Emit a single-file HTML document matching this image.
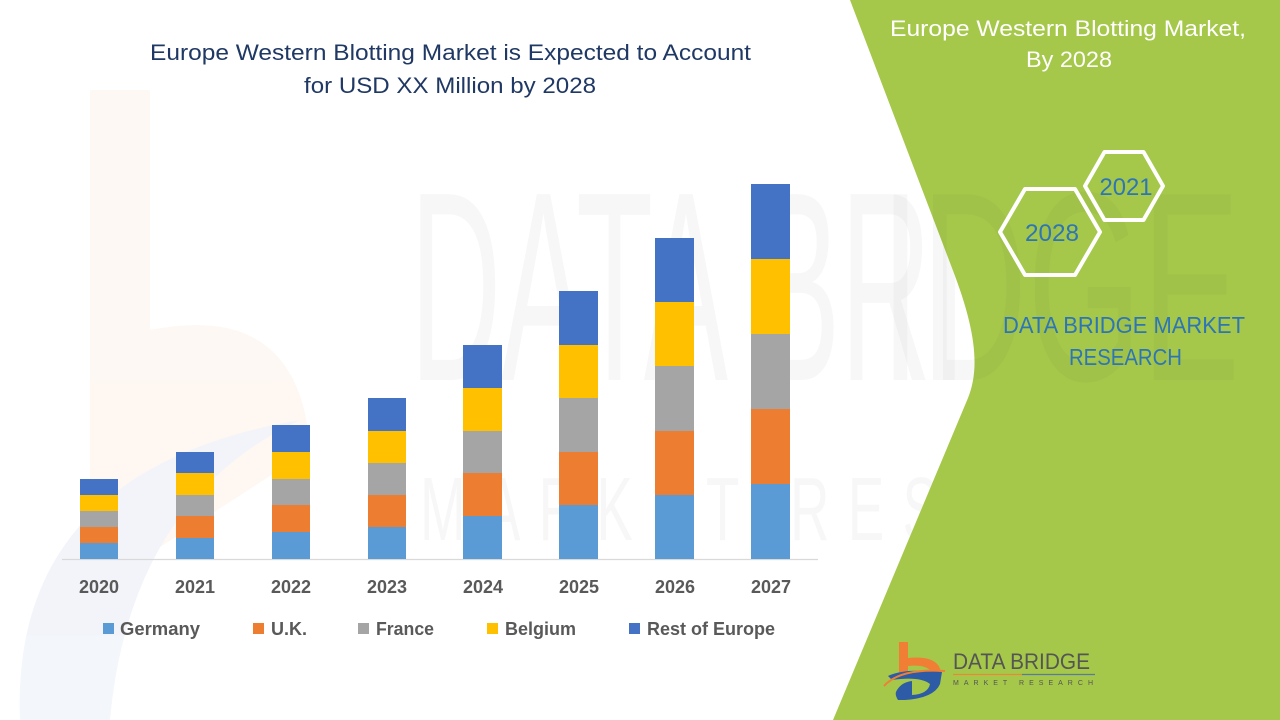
<!DOCTYPE html>
<html><head><meta charset="utf-8"><style>
html,body{margin:0;padding:0;background:#fff;}
svg{display:block;}
text{font-family:"Liberation Sans",sans-serif;}
</style></head><body>
<svg width="1280" height="720" viewBox="0 0 1280 720" xmlns="http://www.w3.org/2000/svg">
<rect width="1280" height="720" fill="#ffffff"/>
<!-- faint watermark -->
<g opacity="0.06">
  <path d="M90,90 L150,90 L150,330 Q300,300 310,450 L140,560 L90,560 Z" fill="#f08a3c"/>
  <path d="M20,720 Q10,470 300,420 Q130,500 110,720 Z" fill="#2f5ea8"/>
</g>
<g opacity="0.045" fill="#555">
  <text x="410" y="380" font-size="270" textLength="830" lengthAdjust="spacingAndGlyphs">DATA BRIDGE</text>
  <text x="420" y="540" font-size="90" textLength="820" lengthAdjust="spacingAndGlyphs" letter-spacing="30">MARKET RESEARCH</text>
</g>
<!-- green panel -->
<path d="M850,0 L952,268 C976,330 980,368 968,398 L833,720 L1280,720 L1280,0 Z" fill="#a5c84a"/>
<g opacity="0.03" fill="#333">
  <text x="880" y="380" font-size="270" textLength="360" lengthAdjust="spacingAndGlyphs">IDGE</text>
</g>

<!-- title -->
<text x="150" y="60" font-size="22" fill="#1f3864" textLength="601" lengthAdjust="spacingAndGlyphs">Europe Western Blotting Market is Expected to Account</text>
<text x="304" y="93" font-size="22" fill="#1f3864" textLength="292" lengthAdjust="spacingAndGlyphs">for USD XX Million by 2028</text>

<!-- axis -->
<line x1="62" y1="559.5" x2="818" y2="559.5" stroke="#d9d9d9" stroke-width="1.2"/>

<!-- bars -->
<g>
  <rect x="80" y="543" width="38" height="16" fill="#5b9bd5"/>
  <rect x="80" y="527" width="38" height="16" fill="#ed7d31"/>
  <rect x="80" y="511" width="38" height="16" fill="#a5a5a5"/>
  <rect x="80" y="495" width="38" height="16" fill="#ffc000"/>
  <rect x="80" y="479" width="38" height="16" fill="#4472c4"/>

  <rect x="176" y="538" width="38" height="21" fill="#5b9bd5"/>
  <rect x="176" y="516" width="38" height="22" fill="#ed7d31"/>
  <rect x="176" y="495" width="38" height="21" fill="#a5a5a5"/>
  <rect x="176" y="473" width="38" height="22" fill="#ffc000"/>
  <rect x="176" y="452" width="38" height="21" fill="#4472c4"/>

  <rect x="272" y="532" width="38" height="27" fill="#5b9bd5"/>
  <rect x="272" y="505" width="38" height="27" fill="#ed7d31"/>
  <rect x="272" y="479" width="38" height="26" fill="#a5a5a5"/>
  <rect x="272" y="452" width="38" height="27" fill="#ffc000"/>
  <rect x="272" y="425" width="38" height="27" fill="#4472c4"/>

  <rect x="368" y="527" width="38" height="32" fill="#5b9bd5"/>
  <rect x="368" y="495" width="38" height="32" fill="#ed7d31"/>
  <rect x="368" y="463" width="38" height="32" fill="#a5a5a5"/>
  <rect x="368" y="431" width="38" height="32" fill="#ffc000"/>
  <rect x="368" y="398" width="38" height="33" fill="#4472c4"/>

  <rect x="463" y="516" width="39" height="43" fill="#5b9bd5"/>
  <rect x="463" y="473" width="39" height="43" fill="#ed7d31"/>
  <rect x="463" y="431" width="39" height="42" fill="#a5a5a5"/>
  <rect x="463" y="388" width="39" height="43" fill="#ffc000"/>
  <rect x="463" y="345" width="39" height="43" fill="#4472c4"/>

  <rect x="559" y="505" width="39" height="54" fill="#5b9bd5"/>
  <rect x="559" y="452" width="39" height="53" fill="#ed7d31"/>
  <rect x="559" y="398" width="39" height="54" fill="#a5a5a5"/>
  <rect x="559" y="345" width="39" height="53" fill="#ffc000"/>
  <rect x="559" y="291" width="39" height="54" fill="#4472c4"/>

  <rect x="655" y="495" width="39" height="64" fill="#5b9bd5"/>
  <rect x="655" y="431" width="39" height="64" fill="#ed7d31"/>
  <rect x="655" y="366" width="39" height="65" fill="#a5a5a5"/>
  <rect x="655" y="302" width="39" height="64" fill="#ffc000"/>
  <rect x="655" y="238" width="39" height="64" fill="#4472c4"/>

  <rect x="751" y="484" width="39" height="75" fill="#5b9bd5"/>
  <rect x="751" y="409" width="39" height="75" fill="#ed7d31"/>
  <rect x="751" y="334" width="39" height="75" fill="#a5a5a5"/>
  <rect x="751" y="259" width="39" height="75" fill="#ffc000"/>
  <rect x="751" y="184" width="39" height="75" fill="#4472c4"/>
</g>

<!-- x labels -->
<g font-size="18" font-weight="bold" fill="#595959" text-anchor="middle">
  <text x="99" y="593">2020</text>
  <text x="195" y="593">2021</text>
  <text x="291" y="593">2022</text>
  <text x="387" y="593">2023</text>
  <text x="483" y="593">2024</text>
  <text x="579" y="593">2025</text>
  <text x="675" y="593">2026</text>
  <text x="771" y="593">2027</text>
</g>

<!-- legend -->
<g font-size="18" font-weight="bold" fill="#595959">
  <rect x="103" y="623" width="11" height="11" fill="#5b9bd5"/>
  <text x="120" y="635" textLength="80" lengthAdjust="spacingAndGlyphs">Germany</text>
  <rect x="253" y="623" width="11" height="11" fill="#ed7d31"/>
  <text x="271" y="635" textLength="36" lengthAdjust="spacingAndGlyphs">U.K.</text>
  <rect x="358" y="623" width="11" height="11" fill="#a5a5a5"/>
  <text x="376" y="635" textLength="58" lengthAdjust="spacingAndGlyphs">France</text>
  <rect x="487" y="623" width="11" height="11" fill="#ffc000"/>
  <text x="505" y="635" textLength="71" lengthAdjust="spacingAndGlyphs">Belgium</text>
  <rect x="629" y="623" width="11" height="11" fill="#4472c4"/>
  <text x="647" y="635" textLength="128" lengthAdjust="spacingAndGlyphs">Rest of Europe</text>
</g>

<!-- right panel texts -->
<text x="890" y="36" font-size="22" fill="#ffffff" textLength="356" lengthAdjust="spacingAndGlyphs">Europe Western Blotting Market,</text>
<text x="1026" y="67" font-size="22" fill="#ffffff" textLength="86" lengthAdjust="spacingAndGlyphs">By 2028</text>

<!-- hexagons -->
<g fill="none" stroke="#ffffff" stroke-width="4" stroke-linejoin="round">
  <polygon points="1085,186 1104.5,152 1143.5,152 1163,186 1143.5,220 1104.5,220"/>
  <polygon points="1000,232 1025,189 1075,189 1100,232 1075,275 1025,275"/>
</g>
<text x="1126" y="195" font-size="24" fill="#2e75b6" text-anchor="middle" textLength="53" lengthAdjust="spacingAndGlyphs">2021</text>
<text x="1052" y="241" font-size="24" fill="#2e75b6" text-anchor="middle" textLength="54" lengthAdjust="spacingAndGlyphs">2028</text>

<text x="1003" y="333" font-size="23" fill="#2e75b6" textLength="242" lengthAdjust="spacingAndGlyphs">DATA BRIDGE MARKET</text>
<text x="1069" y="365" font-size="23" fill="#2e75b6" textLength="113" lengthAdjust="spacingAndGlyphs">RESEARCH</text>

<!-- bottom logo -->
<g>
  <path d="M899,642 L908,642 L908,658 Q938,655 941,672 L932,672 Q926,664 908,666 L908,674 L899,674 Z" fill="#f07f35"/>
  <path d="M888,676 Q905,668 942,672 L940,684 Q934,698 905,700 L898,700 Q894,694 897,690 Q902,682 912,681 L912,695 Q928,694 930,684 Q920,676 892,680 Z" fill="#2d5ba5"/>
  <path d="M884,686 Q900,668 945,671" fill="none" stroke="#f07f35" stroke-width="2"/>
  <text x="953" y="669" font-size="22" fill="#555555" textLength="137" lengthAdjust="spacingAndGlyphs">DATA BRIDGE</text>
  <line x1="953" y1="674.5" x2="1022" y2="674.5" stroke="#e8893a" stroke-width="1.2"/>
  <line x1="1022" y1="674.5" x2="1095" y2="674.5" stroke="#5a78a0" stroke-width="1.2"/>
  <text x="953" y="685" font-size="7" fill="#555555" textLength="140" lengthAdjust="spacing">MARKET  RESEARCH</text>
</g>
</svg>
</body></html>
